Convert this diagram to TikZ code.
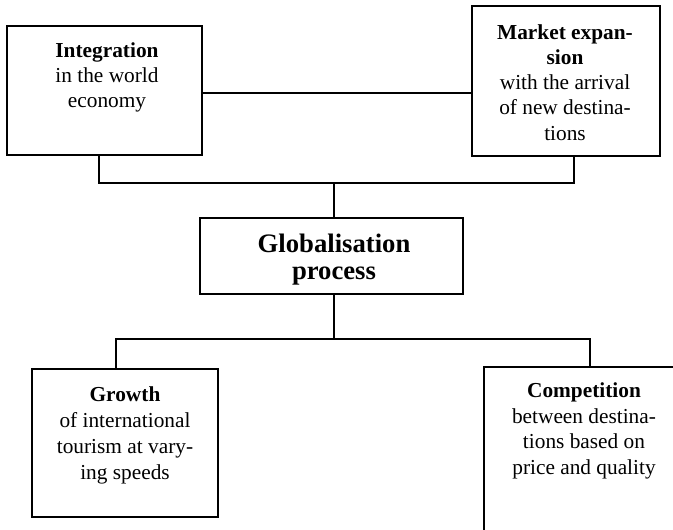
\documentclass[tikz,border=0pt]{standalone}
\usepackage{fontspec}
\setmainfont{Liberation Serif}
\usetikzlibrary{calc}
\begin{document}
\begin{tikzpicture}[x=0.75pt,y=-0.75pt,
  line width=0.8pt,
  box/.style 2 args={draw, line width=0.8pt, inner sep=0pt, outer sep=0pt, anchor=north west,
    minimum width={#1*0.75pt}, minimum height={#2*0.75pt}},
  txt/.style={align=center, inner sep=0pt, anchor=north,
    font=\fontsize{16}{18.9}\selectfont},
  txtb/.style={align=center, inner sep=0pt, anchor=north,
    font=\fontsize{20}{20.3}\selectfont\bfseries}]
\useasboundingbox (0,0) rectangle (673,530);
\clip (0,0) rectangle (673,530);
% boxes
\node[box={195}{129}] (tl) at (7,26) {};
\node[box={188}{150}] (tr) at (472,6) {};
\node[box={263}{76}]  (gp) at (200,218) {};
\node[box={186}{148}] (gl) at (32,369) {};
\node[box={300}{250}] (cr) at (484,367) {};
% texts
\node[txt] (tltx) at (107,42) {\textbf{Integration}\\in the world\\economy};
\node[txt] (trtx) at (565,24) {\textbf{Market expan-}\\\textbf{sion}\\with the arrival\\of new destina-\\tions};
\node[txtb] (gptx) at (334,233) {Globalisation\\process};
\node[txt,font=\fontsize{16}{19.5}\selectfont] (gltx) at (125,386) {\textbf{Growth}\\of international\\tourism at vary-\\ing speeds};
\node[txt,font=\fontsize{16}{19.3}\selectfont] (crtx) at (584,382) {\textbf{Competition}\\between destina-\\tions based on\\price and quality};
% connectors
\coordinate (m) at (0,93);
\draw (tl.east |- m) -- (tr.west |- m);
\coordinate (a1) at (99,183);
\coordinate (a2) at (574,183);
\coordinate (j1) at (334,183);
\draw (a1 |- tl.south) -- (a1) -- (a2) -- (a2 |- tr.south);
\draw (j1) -- (j1 |- gp.north);
\coordinate (b0) at (334,339);
\coordinate (b1) at (116,339);
\coordinate (b2) at (590,339);
\draw (b0 |- gp.south) -- (b0);
\draw (b1 |- gl.north) -- (b1) -- (b2) -- (b2 |- cr.north);
\end{tikzpicture}
\end{document}
